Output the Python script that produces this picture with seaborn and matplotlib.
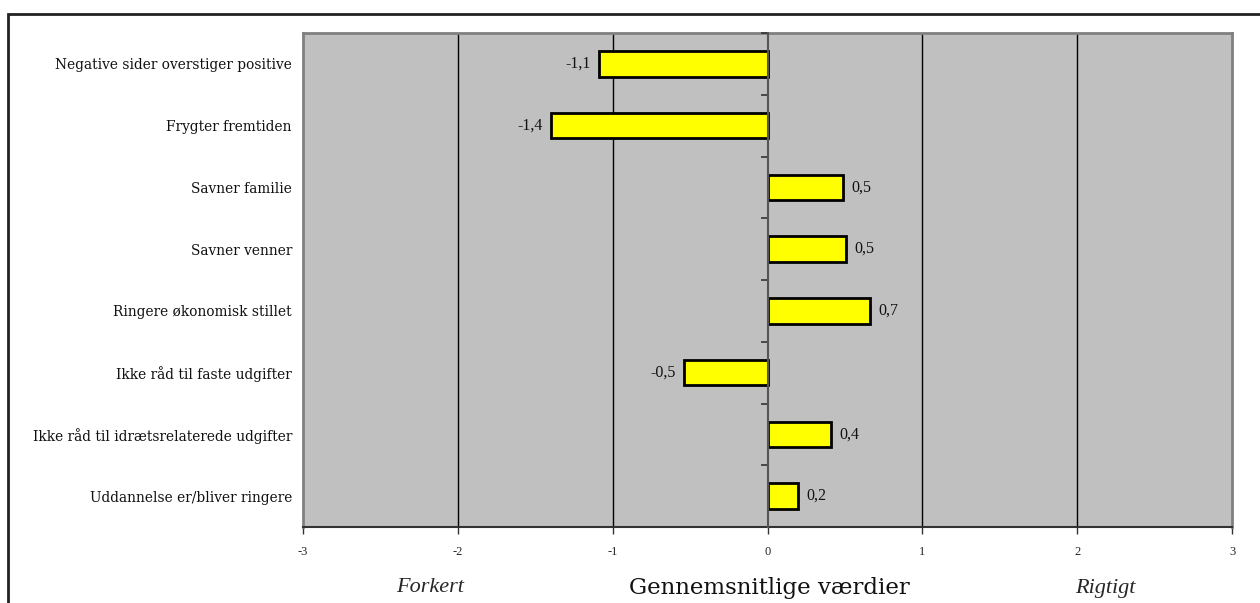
import matplotlib
matplotlib.use("Agg")
import matplotlib.pyplot as plt
import matplotlib.patches as mpatches
import seaborn as sns
import pandas as pd
import numpy as np

categories = [
    "Negative sider overstiger positive",
    "Frygter fremtiden",
    "Savner familie",
    "Savner venner",
    "Ringere økonomisk stillet",
    "Ikke råd til faste udgifter",
    "Ikke råd til idrætsrelaterede udgifter",
    "Uddannelse er/bliver ringere",
]
values = [-1.09, -1.40, 0.49, 0.51, 0.66, -0.54, 0.41, 0.20]
x_ticks = [-3, -2, -1, 0, 1, 2, 3]

sns.set_theme(style="white")
plt.rcParams["font.family"] = ["Liberation Serif", "DejaVu Serif"]

df = pd.DataFrame({"category": categories, "value": values})

fig = plt.figure(figsize=(12.6, 6.03), dpi=100)
ax = fig.add_axes([303/1260, 1 - 527/603, (1232-303)/1260, (527-33)/603])
ax.set_facecolor("#C0C0C0")

sns.barplot(data=df, x="value", y="category", orient="h", color="#FFFF00",
            edgecolor="black", linewidth=2, width=0.41, ax=ax, saturation=1)

ax.set_xlim(-3, 3)
ax.set_ylim(len(categories) - 0.5, -0.5)
ax.set_xticks(x_ticks)
ax.set_xticklabels([str(t) for t in x_ticks], fontsize=9)
for t in x_ticks:
    if t not in (-3, 0, 3):
        ax.axvline(t, color="black", linewidth=1, zorder=0.5)
ax.tick_params(axis="x", direction="out", length=5, width=1, color="#333333", pad=9, bottom=True)
ax.tick_params(axis="y", length=0, pad=8)
for lbl in ax.get_yticklabels():
    lbl.set_fontfamily("DejaVu Serif")
    lbl.set_fontsize(9.9)
    lbl.set_color("#111111")
ax.set_xlabel("")
ax.set_ylabel("")

for name, sp in ax.spines.items():
    sp.set_color("#808080")
    sp.set_linewidth(2)
ax.spines["bottom"].set_color("#333333")
ax.spines["bottom"].set_linewidth(1.5)

# category axis crossing at zero
ax2 = ax.twinx()
ax2.set_ylim(ax.get_ylim())
for name, sp in ax2.spines.items():
    sp.set_visible(False)
ax2.spines["left"].set_visible(True)
ax2.spines["left"].set_position(("data", 0))
ax2.spines["left"].set_color("#555555")
ax2.spines["left"].set_linewidth(1.5)
ax2.yaxis.set_ticks_position("left")
ax2.set_yticks(np.arange(-0.5, len(categories) + 0.5, 1.0))
ax2.set_yticklabels([])
ax2.tick_params(axis="y", direction="out", length=5, width=1.2, color="#333333")
ax2.set_zorder(ax.get_zorder() + 1)
ax2.patch.set_visible(False)

labels = [f"{v:.1f}".replace(".", ",") for v in values]
ax.bar_label(ax.containers[0], labels=labels, padding=6, fontsize=11.5, color="#111111")

fig.text(430/1260, 1 - 588/603, "Forkert", ha="center", va="center", fontsize=16, style="italic")
fig.text(769/1260, 1 - 588/603, "Gennemsnitlige værdier", ha="center", va="center", fontsize=16.5,
         family="DejaVu Serif", color="#111111")
fig.text(1105/1260, 1 - 588/603, "Rigtigt", ha="center", va="center", fontsize=16, style="italic")

frame = mpatches.Rectangle((8/1260, -0.05), 1.2, (1 - 14/603) + 0.05, transform=fig.transFigure,
                           fill=False, edgecolor="#222222", linewidth=2, clip_on=False)
fig.patches.append(frame)

fig.savefig("out.png", dpi=100)
